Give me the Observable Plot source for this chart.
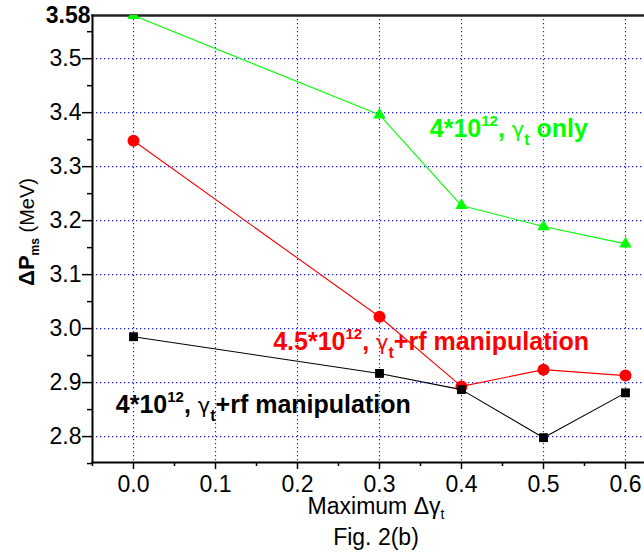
<!DOCTYPE html>
<html><head><meta charset="utf-8">
<script src="https://cdn.jsdelivr.net/npm/d3@7"></script>
<script src="https://cdn.jsdelivr.net/npm/@observablehq/plot@0.6"></script>
<style>
body{margin:0;background:#fff}
#chart svg{font-family:Arial,"Liberation Sans",sans-serif;display:block}
</style>
</head><body><div id="chart"></div>
<script>
// ---- data ----
const xValues = [0.0, 0.3, 0.4, 0.5, 0.6];
const gammaOnly4 = [3.58, 3.396, 3.228, 3.189, 3.157];
const gammaRf45 = [3.348, 3.022, 2.893, 2.924, 2.913];
const gammaRf4 = [2.985, 2.917, 2.887, 2.798, 2.881];
const seriesNames = ["4*10^12, γt only", "4.5*10^12, γt+rf manipulation", "4*10^12, γt+rf manipulation"];
const seriesColors = ["#00ff00", "#ff0000", "#000000"];
const seriesSymbols = ["triangle", "circle", "square"];
const xTicks = [0.0, 0.1, 0.2, 0.3, 0.4, 0.5, 0.6];
const xMinorTicks = [-0.05, 0.05, 0.15, 0.25, 0.35, 0.45, 0.55];
const yTicks = [2.8, 2.9, 3.0, 3.1, 3.2, 3.3, 3.4, 3.5];
const yMinorTicks = [2.75, 2.85, 2.95, 3.05, 3.15, 3.25, 3.35, 3.45, 3.55];
const yTopTick = [3.58];
// annotation labels: mantissa, exponent, suffix, anchor (x, y) in data units
const labelMantissa = ["4*10", "4.5*10", "4*10"];
const labelExponent = ["12", "12", "12"];
const labelSuffix = [" only", "+rf manipulation", "+rf manipulation"];
const labelX = [0.362, 0.171, -0.021];
const labelY = [3.354, 2.959, 2.843];
const xLabel = "Maximum Δγ";
const caption = "Fig. 2(b)";

const seriesValues = [gammaOnly4, gammaRf45, gammaRf4];
const table = [];
seriesValues.forEach((vals, s) => vals.forEach((v, i) => table.push({series: seriesNames[s], x: xValues[i], y: v})));

const gridStyle = {stroke: "#0000ff", strokeOpacity: 0.9, strokeWidth: 1.2, strokeDasharray: "1.3,2.7"};
const marks = [
  Plot.gridX(xTicks, gridStyle),
  Plot.gridY(yTicks, gridStyle),
  Plot.axisX(xTicks, {tickSize: 7, tickPadding: 6, tickFormat: d3.format(".1f"), label: null, fontSize: 23, strokeWidth: 1.5}),
  Plot.axisX(xMinorTicks, {tickSize: 4, tickFormat: () => "", label: null, strokeWidth: 1.5}),
  Plot.axisY(yTicks, {tickSize: 10, tickPadding: 1, tickFormat: d3.format(".1f"), label: null, fontSize: 23, strokeWidth: 1.5}),
  Plot.axisY(yMinorTicks, {tickSize: 5, tickFormat: () => "", label: null, strokeWidth: 1.5}),
  Plot.axisY(yTopTick, {tickSize: 0, tickPadding: 2, tickFormat: d3.format(".2f"), label: null, fontSize: 23, fontWeight: "bold"}),
  Plot.frame({anchor: "top", stroke: "#222", strokeWidth: 2.5}),
  Plot.frame({anchor: "left", stroke: "#000", strokeWidth: 2}),
  Plot.frame({anchor: "bottom", stroke: "#000", strokeWidth: 2})
];
seriesNames.forEach((name, s) => {
  const data = table.filter(d => d.series === name);
  marks.push(Plot.line(data, {x: "x", y: "y", stroke: seriesColors[s], strokeWidth: 1.1, clip: true}));
  const r = seriesSymbols[s] === "triangle" ? 4.6 : seriesSymbols[s] === "square" ? 5 : 6;
  marks.push(Plot.dot(data, {x: "x", y: "y", symbol: () => seriesSymbols[s], r, fill: seriesColors[s], stroke: "none", clip: true}));
});

const plot = Plot.plot({
  width: 644, height: 559,
  marginTop: 15, marginLeft: 92, marginRight: 0, marginBottom: 97,
  x: {domain: [-0.05, 0.6232]},
  y: {domain: [2.752, 3.58]},
  symbol: {type: "identity"},
  style: {fontFamily: "Arial, 'Liberation Sans', sans-serif", fontSize: "22px", color: "black", background: "white", overflow: "visible"},
  marks
});
document.getElementById("chart").appendChild(plot);

const sx = plot.scale("x"), sy = plot.scale("y");
const svg = d3.select(plot);
labelMantissa.forEach((m, i) => {
  const t = svg.append("text")
    .attr("x", sx.apply(labelX[i])).attr("y", sy.apply(labelY[i]))
    .attr("text-anchor", "start")
    .attr("fill", seriesColors[i]).attr("font-weight", "bold").attr("font-size", 25);
  t.append("tspan").text(m);
  t.append("tspan").attr("font-size", 15).attr("dy", -11).text(labelExponent[i]);
  t.append("tspan").attr("dy", 11).text(", ");
  t.append("tspan").attr("font-weight", "normal").attr("font-family", "'DejaVu Sans', sans-serif").attr("font-size", 21).text("γ");
  t.append("tspan").attr("font-size", 16).attr("dy", 8).text("t");
  t.append("tspan").attr("dy", -8).text(labelSuffix[i]);
});

// y axis title
const yl = svg.append("text").attr("transform", "translate(34,232) rotate(-90)").attr("text-anchor", "middle").attr("font-size", 20);
yl.append("tspan").attr("font-weight", "bold").attr("font-size", 22).text("ΔP");
yl.append("tspan").attr("font-weight", "bold").attr("font-size", 12).attr("dy", 5).text("ms");
yl.append("tspan").attr("dy", -5).text(" (MeV)");

// x axis title and caption
const xl = svg.append("text").attr("x", 376).attr("y", 514).attr("text-anchor", "middle").attr("font-size", 23);
xl.append("tspan").text(xLabel);
xl.append("tspan").attr("font-size", 14).attr("dy", 5).text("t");
svg.append("text").attr("x", 376).attr("y", 545).attr("text-anchor", "middle").attr("font-size", 23).text(caption);
</script>
</body></html>
